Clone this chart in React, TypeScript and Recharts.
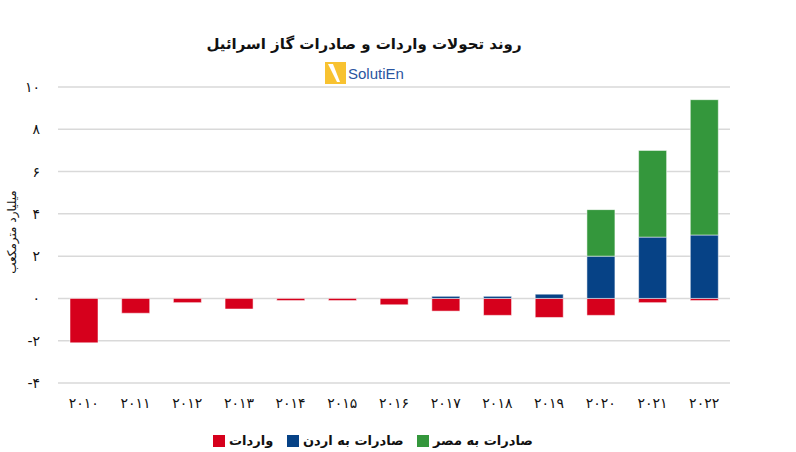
import React from "react";
import { BarChart, Bar, XAxis, YAxis, CartesianGrid } from "recharts";

const years = ["2010", "2011", "2012", "2013", "2014", "2015", "2016", "2017", "2018", "2019", "2020", "2021", "2022"];
const imports = [-2.1, -0.7, -0.2, -0.5, -0.1, -0.1, -0.3, -0.6, -0.8, -0.9, -0.8, -0.2, -0.1];
const toJordan = [0, 0, 0, 0, 0, 0, 0, 0.1, 0.1, 0.2, 2.0, 2.9, 3.0];
const toEgypt = [0, 0, 0, 0, 0, 0, 0, 0, 0, 0, 2.2, 4.1, 6.4];
const yTicks = [-4, -2, 0, 2, 4, 6, 8, 10];

const RED = "#D6001C";
const BLUE = "#064286";
const GREEN = "#34973C";
const FONT = "'DejaVu Sans', sans-serif";

const fa = (s: string | number) =>
  String(s).replace(/\d/g, (d) => "۰۱۲۳۴۵۶۷۸۹"[Number(d)]);

const data = years.map((y, i) => ({
  year: y,
  imports: imports[i],
  jordan: toJordan[i],
  egypt: toEgypt[i],
}));

const legendItems = [
  { label: "واردات", color: RED },
  { label: "صادرات به اردن", color: BLUE },
  { label: "صادرات به مصر", color: GREEN },
];

export default function App() {
  return (
    <div style={{ position: "absolute", left: 0, top: 0, width: 796, height: 452, background: "#fff", fontFamily: FONT }}>
      {/* title */}
      <div
        dir="rtl"
        style={{ position: "absolute", left: 164, width: 400, top: 35, textAlign: "center", fontSize: 15, fontWeight: "bold", color: "#111" }}
      >
        روند تحولات واردات و صادرات گاز اسرائیل
      </div>
      {/* logo */}
      <svg style={{ position: "absolute", left: 323, top: 61 }} width={90} height={25}>
        <rect x={2} y={1} width={21} height={22} fill="#F8C230" />
        <path d="M5 3 L10 3 L17 21 L14 21 Z" fill="#fff" />
        <text x={25} y={18} fontFamily="'Liberation Sans', Arial, sans-serif" fontSize={15} fill="#2A55A0">
          SolutiEn
        </text>
      </svg>
      {/* y label */}
      <div
        dir="rtl"
        style={{
          position: "absolute", left: 12, top: 232, fontSize: 12, color: "#111",
          transform: "translate(-50%, -50%) rotate(-90deg)", whiteSpace: "nowrap",
        }}
      >
        میلیارد مترمکعب
      </div>
      <BarChart
        width={796}
        height={452}
        data={data}
        stackOffset="sign"
        margin={{ top: 87, right: 66, bottom: 39, left: 0 }}
      >
        <CartesianGrid vertical={false} stroke="#D9D9D9" strokeWidth={1.5} />
        <XAxis
          dataKey="year"
          axisLine={false}
          tickLine={false}
          height={30}
          tickMargin={9}
          tickFormatter={fa}
          tick={{ fill: "#111", fontSize: 14, fontFamily: FONT, letterSpacing: 1.5 }}
        />
        <YAxis
          domain={[-4, 10]}
          ticks={yTicks}
          axisLine={false}
          tickLine={false}
          width={58}
          tickMargin={12}
          tickFormatter={fa}
          tick={{ fill: "#111", fontSize: 14, fontFamily: FONT }}
        />
        <Bar dataKey="imports" stackId="a" fill={RED} barSize={28} stroke="rgba(255,255,255,0.5)" isAnimationActive={false} />
        <Bar dataKey="jordan" stackId="a" fill={BLUE} barSize={28} stroke="rgba(255,255,255,0.5)" isAnimationActive={false} />
        <Bar dataKey="egypt" stackId="a" fill={GREEN} barSize={28} stroke="rgba(255,255,255,0.5)" isAnimationActive={false} />
      </BarChart>
      {/* legend */}
      {legendItems.map((it, i) => (
        <div
          key={it.label}
          style={{ position: "absolute", top: 433, left: [213, 287, 417][i], display: "flex", alignItems: "center", gap: 4 }}
        >
          <span style={{ width: 12, height: 12, background: it.color, display: "inline-block" }} />
          <span dir="rtl" style={{ fontSize: 13, fontWeight: "bold", color: "#111" }}>{it.label}</span>
        </div>
      ))}
    </div>
  );
}
